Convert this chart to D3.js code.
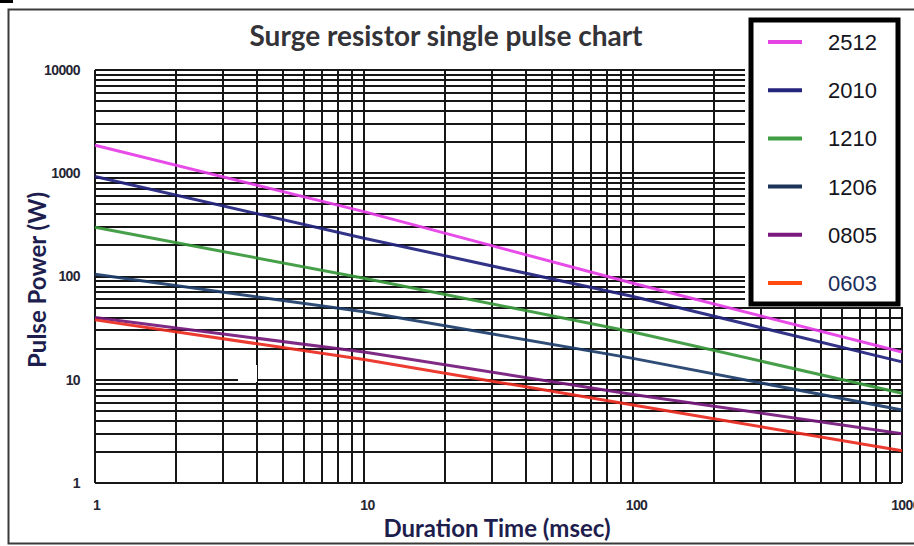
<!DOCTYPE html>
<html>
<head>
<meta charset="utf-8">
<script src="https://cdn.jsdelivr.net/npm/d3@7"></script>
<style>
  html, body { margin: 0; padding: 0; background: #fff; }
  svg { display: block; }
</style>
</head>
<body>
<svg id="chart" width="914" height="546"></svg>
<script>
// ---- data ----
const durations = [1, 10, 100, 1000];           // msec
const seriesNames = ["2512", "2010", "1210", "1206", "0805", "0603"];
const p2512 = [1870, 425, 86, 18.6];
const p2010 = [930, 235, 64, 14.9];
const p1210 = [300, 96, 29, 7.4];
const p1206 = [105, 45.5, 16.1, 5.1];
const p0805 = [40, 18.6, 7.2, 3.0];
const p0603 = [38, 15.7, 5.7, 2.05];
const yTickValues = [1, 10, 100, 1000, 10000];
const xTickValues = [1, 10, 100, 1000];
const seriesColors = ["#e63de6", "#22227e", "#37973a", "#1d3d6a", "#74197c", "#ea2a1e"];
const legendColors = ["#e444e4", "#24247e", "#3f9f42", "#1d3558", "#7a1a7e", "#ff4a10"];

const seriesValues = [p2512, p2010, p1210, p1206, p0805, p0603];

// ---- layout ----
const svg = d3.select("#chart");
const plot = { left: 95, right: 902, top: 70, bottom: 483 };

const x = d3.scaleLog().domain([1, 1000]).range([plot.left, plot.right]);
const y = d3.scaleLog().domain([1, 10000]).range([plot.bottom, plot.top]);

// outer frame
svg.append("rect")
  .attr("x", 8.5).attr("y", 9.5).attr("width", 930).attr("height", 534)
  .attr("fill", "#fff").attr("stroke", "#3a3a3a").attr("stroke-width", 2);
// small artifact line in the top-left corner
svg.append("line").attr("x1", 0).attr("x2", 13).attr("y1", 1.5).attr("y2", 1.5)
  .attr("stroke", "#000").attr("stroke-width", 3);

// grid lines (log minor grid)
const yGrid = [];
for (let d = 1; d < 10000; d *= 10) for (let k = 1; k <= 9; k++) yGrid.push(k * d);
yGrid.push(10000);
const xGrid = [];
for (let d = 1; d < 1000; d *= 10) for (let k = 1; k <= 9; k++) xGrid.push(k * d);
xGrid.push(1000);

const grid = svg.append("g").attr("stroke", "#161616").attr("stroke-width", 2);
grid.selectAll("line.h").data(yGrid).join("line").attr("class", "h")
  .attr("x1", plot.left).attr("x2", plot.right)
  .attr("y1", d => Math.round(y(d))).attr("y2", d => Math.round(y(d)));
grid.selectAll("line.v").data(xGrid).join("line").attr("class", "v")
  .attr("y1", plot.top).attr("y2", plot.bottom)
  .attr("x1", d => Math.round(x(d))).attr("x2", d => Math.round(x(d)));

// white artifact block near the 10 W line
svg.append("rect").attr("x", 238).attr("y", 365).attr("width", 19).attr("height", 17).attr("fill", "#fff");

// series lines
const line = d3.line().x(d => x(d[0])).y(d => y(d[1]));
seriesValues.forEach((vals, i) => {
  svg.append("path")
    .datum(durations.map((t, j) => [t, vals[j]]))
    .attr("d", line)
    .attr("fill", "none")
    .attr("stroke", seriesColors[i])
    .attr("stroke-width", 3)
    .attr("opacity", 0.92);
});

// axes tick labels
const tickFont = "'Liberation Sans Narrow', 'Liberation Sans', Arial, sans-serif";
const yAxis = svg.append("g").attr("transform", `translate(${plot.left - 12},0)`)
  .call(d3.axisLeft(y).tickValues(yTickValues).tickFormat(d3.format("d")).tickSize(0));
yAxis.select(".domain").remove();
yAxis.selectAll("text").attr("font-family", tickFont).attr("font-size", 14)
  .attr("font-weight", "bold").attr("fill", "#262634").attr("letter-spacing", "-0.6px");

const xAxis = svg.append("g").attr("transform", `translate(0,${plot.bottom + 14})`)
  .call(d3.axisBottom(x).tickValues(xTickValues).tickFormat(d3.format("d")).tickSize(0));
xAxis.select(".domain").remove();
xAxis.selectAll("text").attr("font-family", tickFont).attr("font-size", 14)
  .attr("font-weight", "bold").attr("fill", "#262634").attr("letter-spacing", "-0.6px")
  .attr("text-anchor", "middle")
  .attr("dx", d => d === 1 ? 1 : 3);

// title and axis titles
const titleFont = "Lato, 'Open Sans', sans-serif";
svg.append("text").attr("x", 446).attr("y", 46).attr("text-anchor", "middle")
  .attr("font-family", titleFont).attr("font-weight", "bold").attr("font-size", 28)
  .attr("fill", "#333338").text("Surge resistor single pulse chart");

svg.append("text").attr("transform", "translate(46,280) rotate(-90)").attr("text-anchor", "middle")
  .attr("font-family", titleFont).attr("font-weight", "bold").attr("font-size", 24)
  .attr("fill", "#1e1e4e").text("Pulse Power (W)");

svg.append("text").attr("x", 497).attr("y", 537).attr("text-anchor", "middle")
  .attr("font-family", titleFont).attr("font-weight", "bold").attr("font-size", 24)
  .attr("fill", "#1e1e4e").text("Duration Time (msec)");

// legend
svg.append("rect").attr("x", 745).attr("y", 11).attr("width", 169).attr("height", 296).attr("fill", "#fff");
svg.append("rect").attr("x", 751).attr("y", 20).attr("width", 147).attr("height", 284)
  .attr("fill", "#fff").attr("stroke", "#000").attr("stroke-width", 5);
const legY = d3.scalePoint().domain(seriesNames).range([42, 283]);
seriesNames.forEach((name, i) => {
  const g = svg.append("g");
  g.append("line").attr("x1", 768).attr("x2", 802)
    .attr("y1", legY(name)).attr("y2", legY(name))
    .attr("stroke", legendColors[i]).attr("stroke-width", 4);
  g.append("text").attr("x", 877).attr("y", legY(name) + 8).attr("text-anchor", "end")
    .attr("font-family", "'Liberation Sans', Arial, sans-serif").attr("font-size", 22)
    .attr("fill", i === 5 ? "#1a2e5a" : "#141420").text(name);
});
</script>
</body>
</html>
